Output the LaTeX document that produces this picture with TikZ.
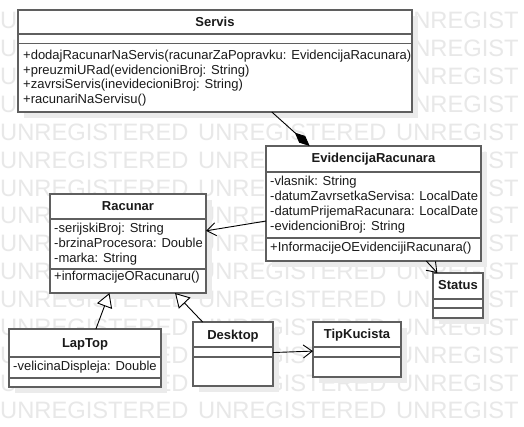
\documentclass[tikz,border=0pt]{standalone}
\usepackage{fontspec}
\setmainfont{Liberation Sans}
\usetikzlibrary{arrows.meta,shadows}
\definecolor{bordergray}{HTML}{5F5F5F}
\definecolor{wmgray}{HTML}{E8E8E8}
\definecolor{shadowgray}{HTML}{EBEBEB}
\definecolor{txt}{HTML}{1A1A1A}
\tikzset{
  classbox/.style={draw=bordergray, line width=1.5pt, fill=white, inner sep=0pt, outer sep=0pt,
    anchor=north west, general shadow={shadow xshift=6pt, shadow yshift=-6pt, fill=shadowgray}},
  divider/.style={draw=bordergray, line width=1.5pt},
  ctitle/.style={anchor=base, inner sep=0pt, text=txt, font=\fontsize{13}{15}\selectfont\bfseries},
  member/.style={anchor=base west, inner sep=0pt, text=txt, font=\fontsize{13}{15}\selectfont},
  wm/.style={anchor=base west, inner sep=0pt, text=wmgray, font=\fontsize{23.7}{24}\selectfont},
  comp/.style={draw=black, line width=0.9pt, -{Diamond[length=20pt,width=9pt,fill=black]}},
  assoc/.style={draw=black, line width=0.9pt, -{Straight Barb[length=9pt,width=13pt]}},
  inh/.style={draw=black, line width=0.9pt, -{Triangle[open,length=14pt,width=16pt,fill=white]}},
}
\begin{document}
\begin{tikzpicture}[x=1pt,y=-1pt]
\useasboundingbox[fill=white] (0,0) rectangle (524,427);
% watermark
\foreach \r in {0,...,14}{
  \node[wm] (wma-\r) at (0,{29+\r*27.85}) {UNREGISTERED};
  \node[wm] (wmb-\r) at (198,{29+\r*27.85}) {UNREGISTERED};
  \node[wm] (wmc-\r) at (396,{29+\r*27.85}) {UNREGIST};
}

% Servis
\node[classbox, minimum width=394pt, minimum height=102pt] (servis) at (18,10) {};
\draw[divider] ([yshift=-24pt]servis.north west) -- ([yshift=-24pt]servis.north east);
\draw[divider] ([yshift=-33.5pt]servis.north west) -- ([yshift=-33.5pt]servis.north east);
\node[ctitle] (servis-t) at (215,27) {Servis};
\node[member] (servis-m1) at (23,60) {+dodajRacunarNaServis(racunarZaPopravku: EvidencijaRacunara)};
\node[member] (servis-m2) at (23,74.5) {+preuzmiURad(evidencioniBroj: String)};
\node[member] (servis-m3) at (23,89) {+zavrsiServis(inevidecioniBroj: String)};
\node[member] (servis-m4) at (23,103.5) {+racunariNaServisu()};

% EvidencijaRacunara
\node[classbox, minimum width=215pt, minimum height=115pt] (evid) at (266,146) {};
\draw[divider] ([yshift=-26pt]evid.north west) -- ([yshift=-26pt]evid.north east);
\draw[divider] ([yshift=-92pt]evid.north west) -- ([yshift=-92pt]evid.north east);
\node[ctitle] (evid-t) at (373.5,163) {EvidencijaRacunara};
\node[member] (evid-a1) at (270,186) {-vlasnik: String};
\node[member] (evid-a2) at (270,201) {-datumZavrsetkaServisa: LocalDate};
\node[member] (evid-a3) at (270,216) {-datumPrijemaRacunara: LocalDate};
\node[member] (evid-a4) at (270,231) {-evidencioniBroj: String};
\node[member] (evid-m1) at (270,252) {+InformacijeOEvidencijiRacunara()};

% Racunar
\node[classbox, minimum width=156pt, minimum height=99pt] (racunar) at (50,194) {};
\draw[divider] ([yshift=-25pt]racunar.north west) -- ([yshift=-25pt]racunar.north east);
\draw[divider] ([yshift=-75pt]racunar.north west) -- ([yshift=-75pt]racunar.north east);
\node[ctitle] (racunar-t) at (128,211) {Racunar};
\node[member] (racunar-a1) at (54,233) {-serijskiBroj: String};
\node[member] (racunar-a2) at (54,248) {-brzinaProcesora: Double};
\node[member] (racunar-a3) at (54,263) {-marka: String};
\node[member] (racunar-m1) at (54,280) {+informacijeORacunaru()};

% Status
\node[classbox, minimum width=50pt, minimum height=45pt] (status) at (433,273) {};
\draw[divider] ([yshift=-26pt]status.north west) -- ([yshift=-26pt]status.north east);
\draw[divider] ([yshift=-35pt]status.north west) -- ([yshift=-35pt]status.north east);
\node[ctitle] (status-t) at (458,290) {Status};

% LapTop
\node[classbox, minimum width=152pt, minimum height=58pt] (laptop) at (9,329) {};
\draw[divider] ([yshift=-28pt]laptop.north west) -- ([yshift=-28pt]laptop.north east);
\draw[divider] ([yshift=-49pt]laptop.north west) -- ([yshift=-49pt]laptop.north east);
\node[ctitle] (laptop-t) at (85,347) {LapTop};
\node[member] (laptop-a1) at (13,370) {-velicinaDispleja: Double};

% Desktop
\node[classbox, minimum width=80pt, minimum height=64pt] (desktop) at (193,322) {};
\draw[divider] ([yshift=-25pt]desktop.north west) -- ([yshift=-25pt]desktop.north east);
\draw[divider] ([yshift=-35pt]desktop.north west) -- ([yshift=-35pt]desktop.north east);
\node[ctitle] (desktop-t) at (233,339) {Desktop};

% TipKucista
\node[classbox, minimum width=88pt, minimum height=55pt] (tipk) at (313,322) {};
\draw[divider] ([yshift=-25pt]tipk.north west) -- ([yshift=-25pt]tipk.north east);
\draw[divider] ([yshift=-35pt]tipk.north west) -- ([yshift=-35pt]tipk.north east);
\node[ctitle] (tipk-t) at (357,338) {TipKucista};

% connectors
\draw[comp] (servis) -- (evid);
\draw[assoc] (evid) -- (racunar);
\draw[assoc] (evid) -- (status);
\draw[inh] (laptop) -- (racunar);
\draw[inh] (desktop) -- (racunar);
\draw[assoc] (desktop) -- (tipk);
\end{tikzpicture}
\end{document}
